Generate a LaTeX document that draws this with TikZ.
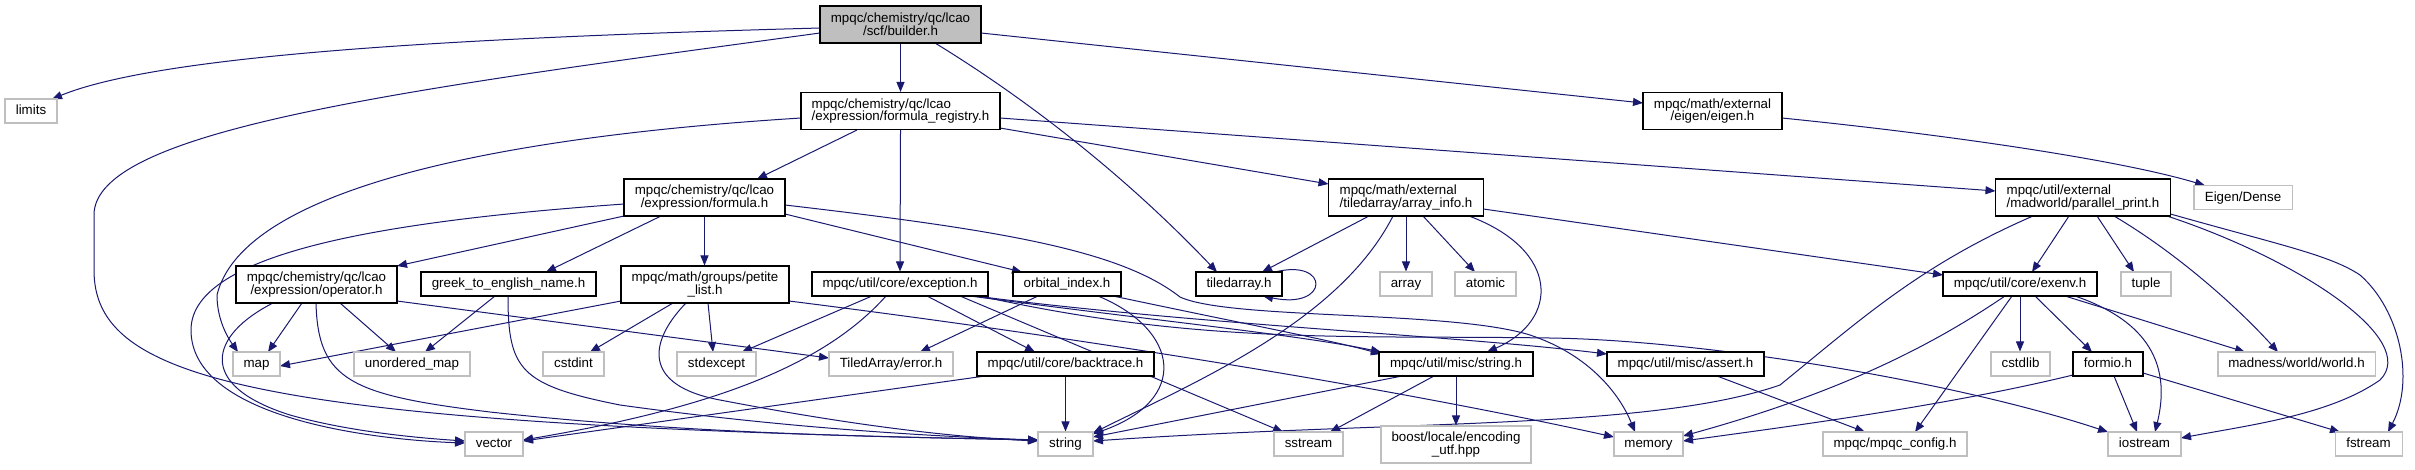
\documentclass[tikz,border=0pt]{standalone}
\usepackage{fontspec}
\setmainfont{Liberation Sans}
\usetikzlibrary{arrows.meta,calc,backgrounds}
\definecolor{edgeblue}{HTML}{191970}
\definecolor{extgray}{HTML}{BFBFBF}
\begin{document}
\begin{tikzpicture}[x=0.75pt,y=-0.75pt,
  box/.style={inner sep=0pt, line width=0.8pt, fill=white, font=\fontsize{10pt}{9.5pt}\selectfont},
  docnode/.style={box, draw=black},
  extnode/.style={box, draw=extgray},
  curnode/.style={box, draw=black, fill=extgray},
  bw/.style={minimum width={#1*0.75pt}},
  hone/.style={minimum height=18pt, text height=7.3pt, text depth=2pt},
  htwo/.style={minimum height=27.75pt},
  dep/.style={draw=edgeblue, line width=0.75pt, -{Triangle[length=7.5pt,width=6pt]}}]
\useasboundingbox (0,0) rectangle (2415,469);
% rank 1
\node[curnode,bw=161,htwo,align=center] (builder) at (900.5,24.5) {mpqc/chemistry/qc/lcao\\/scf/builder.h};
% rank 2
\node[extnode,bw=52,hone] (limits) at (31,111) {limits};
\node[docnode,bw=199,htwo,align=left] (freg) at (900.5,111) {mpqc/chemistry/qc/lcao\\/expression/formula\_registry.h};
\node[docnode,bw=139,htwo,align=center] (eigen) at (1712.5,111) {mpqc/math/external\\/eigen/eigen.h};
% rank 3
\node[docnode,bw=161,htwo,align=center] (formula) at (704.5,197.5) {mpqc/chemistry/qc/lcao\\/expression/formula.h};
\node[docnode,bw=155,htwo,align=left] (arrinfo) at (1406,197.5) {mpqc/math/external\\/tiledarray/array\_info.h};
\node[docnode,bw=175,htwo,align=left] (pprint) at (2083,197.5) {mpqc/util/external\\/madworld/parallel\_print.h};
\node[extnode,bw=98,hone] (edense) at (2243,197.5) {Eigen/Dense};
% rank 4
\node[docnode,bw=161,htwo,align=center] (operator) at (316.5,284.5) {mpqc/chemistry/qc/lcao\\/expression/operator.h};
\node[docnode,bw=175,hone] (greek) at (508.5,284) {greek\_to\_english\_name.h};
\node[docnode,bw=168,htwo,align=center] (petite) at (705,284.5) {mpqc/math/groups/petite\\\_list.h};
\node[docnode,bw=176,hone] (exception) at (900,284) {mpqc/util/core/exception.h};
\node[docnode,bw=108,hone] (orbital) at (1067,284) {orbital\_index.h};
\node[docnode,bw=86,hone] (tarray) at (1239,284) {tiledarray.h};
\node[extnode,bw=52,hone] (array) at (1406,284) {array};
\node[extnode,bw=61,hone] (atomic) at (1485.5,284) {atomic};
\node[docnode,bw=154,hone] (exenv) at (2020,284) {mpqc/util/core/exenv.h};
\node[extnode,bw=50,hone] (tuple) at (2146,284) {tuple};
% rank 5
\node[extnode,bw=47,hone] (map) at (256.5,364) {map};
\node[extnode,bw=116,hone] (umap) at (412,364) {unordered\_map};
\node[extnode,bw=61,hone] (cstdint) at (573.5,364) {cstdint};
\node[extnode,bw=79,hone] (stdexcept) at (716.5,364) {stdexcept};
\node[extnode,bw=124,hone] (taerror) at (891,364) {TiledArray/error.h};
\node[docnode,bw=177,hone] (backtrace) at (1065.5,364) {mpqc/util/core/backtrace.h};
\node[docnode,bw=154,hone] (stringh) at (1456,364) {mpqc/util/misc/string.h};
\node[docnode,bw=157,hone] (assert) at (1685.5,364) {mpqc/util/misc/assert.h};
\node[extnode,bw=59,hone] (cstdlib) at (2020.5,364) {cstdlib};
\node[docnode,bw=70,hone] (formio) at (2108,364) {formio.h};
\node[extnode,bw=157,hone] (world) at (2296.5,364) {madness/world/world.h};
% rank 6
\node[extnode,bw=58,hone] (vector) at (494,444) {vector};
\node[extnode,bw=55,hone] (string) at (1065.5,444) {string};
\node[extnode,bw=69,hone] (sstream) at (1308.5,444) {sstream};
\node[extnode,bw=150,htwo,align=center] (boost) at (1456,444.5) {boost/locale/encoding\\\_utf.hpp};
\node[extnode,bw=69,hone] (memory) at (1648.5,444) {memory};
\node[extnode,bw=144,hone] (config) at (1895,444) {mpqc/mpqc\_config.h};
\node[extnode,bw=73,hone] (iostream) at (2144.5,444) {iostream};
\node[extnode,bw=67,hone] (fstream) at (2368.5,444) {fstream};

\begin{scope}[on background layer]
\fill[white] (0,0) rectangle (2415,469);
% builder.h
\draw[dep] ($(builder)+(-80.5,3.5)$) .. controls (450,38) and (160,55) .. ($(limits)+(21,-12)$);
\draw[dep] ($(builder)+(-80.5,8.5)$) .. controls (400,90) and (94,130) .. (94,215) -- (94,270) .. controls (94,380) and (250,425) .. ($(string)+(-27.5,-4)$);
\draw[dep] (builder.south) -- (freg.north);
\draw[dep] ($(builder)+(34.5,18.5)$) .. controls (1020,95) and (1120,170) .. ($(tarray)+(-22,-12)$);
\draw[dep] ($(builder)+(80.5,8.5)$) -- ($(eigen)+(-69.5,-8)$);
% formula_registry.h
\draw[dep] ($(freg)+(-99.5,7)$) .. controls (450,140) and (240,200) .. (217,295) .. controls (217,320) and (228,338) .. ($(map)+(-18.5,-12)$);
\draw[dep] ($(freg)+(-43.5,19)$) -- ($(formula)+(52.5,-18.5)$);
\draw[dep] (freg.south) -- (exception.north);
\draw[dep] ($(freg)+(99.5,17)$) -- ($(arrinfo)+(-77.5,-13.5)$);
\draw[dep] ($(freg)+(99.5,7)$) -- ($(pprint)+(-87.5,-6.5)$);
% eigen.h
\draw[dep] ($(eigen)+(69.5,7)$) .. controls (1950,135) and (2120,160) .. ($(edense)+(-38,-12)$);
% formula.h
\draw[dep] ($(formula)+(-80.5,6.5)$) .. controls (400,220) and (191,250) .. (191,330) .. controls (191,420) and (380,440) .. ($(vector)+(-29,-1)$);
\draw[dep] ($(formula)+(-80.5,18.5)$) -- ($(operator)+(80.5,-18.5)$);
\draw[dep] ($(formula)+(-43.5,18.5)$) -- ($(greek)+(37.5,-12)$);
\draw[dep] (formula.south) -- (formula.south |- petite.north);
\draw[dep] ($(formula)+(80.5,16.5)$) -- ($(orbital)+(-45,-12)$);
\draw[dep] ($(formula)+(80.5,7.5)$) .. controls (1000,230) and (1120,250) .. (1180,297) .. controls (1230,320) and (1450,310) .. (1530,335) .. controls (1590,355) and (1620,395) .. ($(memory)+(-13.5,-12)$);
% operator.h
\draw[dep] ($(operator)+(-43.5,18.5)$) .. controls (210,335) and (195,385) .. (290,415) .. controls (350,432) and (420,438) .. ($(vector)+(-29,-3)$);
\draw[dep] ($(operator)+(-14.5,18.5)$) -- ($(map)+(11.5,-12)$);
\draw[dep] ($(operator)+(-0.5,18.5)$) .. controls (318,380) and (350,395) .. (490,412) .. controls (700,435) and (900,437) .. ($(string)+(-27.5,-4)$);
\draw[dep] ($(operator)+(23.5,18.5)$) -- ($(umap)+(-16,-12)$);
\draw[dep] ($(operator)+(80.5,16.5)$) -- ($(taerror)+(-62,-6)$);
% greek_to_english_name.h
\draw[dep] ($(greek)+(-13.5,12)$) -- ($(umap)+(13,-12)$);
\draw[dep] ($(greek)+(-0.5,12)$) .. controls (508,370) and (520,385) .. (620,405) .. controls (800,430) and (950,437) .. ($(string)+(-27.5,-4)$);
% petite_list.h
\draw[dep] ($(petite)+(-84,16.5)$) -- ($(map)+(23.5,2)$);
\draw[dep] ($(petite)+(-32,18.5)$) -- ($(cstdint)+(16.5,-12)$);
\draw[dep] ($(petite)+(3,18.5)$) -- ($(stdexcept)+(-3.5,-12)$);
\draw[dep] ($(petite)+(-19,18.5)$) .. controls (650,340) and (640,385) .. (720,400) .. controls (850,425) and (950,437) .. ($(string)+(-27.5,-3)$);
\draw[dep] ($(petite)+(84,16.5)$) .. controls (1100,340) and (1400,390) .. ($(memory)+(-34.5,-7)$);
% exception.h
\draw[dep] ($(exception)+(-28,12)$) -- ($(stdexcept)+(25.5,-12)$);
\draw[dep] ($(exception)+(-14,12)$) .. controls (820,370) and (700,410) .. ($(vector)+(29,-4)$);
\draw[dep] ($(exception)+(27,12)$) -- ($(backtrace)+(-30.5,-12)$);
\draw[dep] ($(exception)+(60,12)$) -- ($(sstream)+(-25.5,-12)$);
\draw[dep] ($(exception)+(70,12)$) .. controls (1150,320) and (1300,335) .. ($(stringh)+(-75,-12)$);
\draw[dep] ($(exception)+(80,12)$) .. controls (1200,345) and (1350,335) .. (1550,338) .. controls (1700,340) and (1950,380) .. ($(iostream)+(-36.5,-12)$);
\draw[dep] ($(exception)+(75,12)$) .. controls (1200,325) and (1450,335) .. ($(assert)+(-78.5,-10)$);
% orbital_index.h
\draw[dep] ($(orbital)+(-29,12)$) -- ($(taerror)+(29,-12)$);
\draw[dep] ($(orbital)+(31,12)$) .. controls (1180,330) and (1190,400) .. ($(string)+(27.5,-10)$);
\draw[dep] ($(orbital)+(46,12)$) .. controls (1250,325) and (1330,340) .. ($(stringh)+(-75,-10)$);
% tiledarray.h
\draw[dep] ($(tarray)+(36,-12)$) .. controls (1330,258) and (1330,310) .. ($(tarray)+(24,12)$);
% array_info.h
\draw[dep] ($(arrinfo)+(-37,18.5)$) -- ($(tarray)+(23,-12)$);
\draw[dep] ($(arrinfo)+(-13,18.5)$) .. controls (1340,320) and (1200,380) .. ($(string)+(27.5,-11)$);
\draw[dep] (arrinfo.south) -- (array.north);
\draw[dep] ($(arrinfo)+(17,18.5)$) -- ($(atomic)+(-10.5,-12)$);
\draw[dep] ($(arrinfo)+(63,18.5)$) .. controls (1560,250) and (1560,320) .. ($(stringh)+(31,-12)$);
\draw[dep] ($(arrinfo)+(77.5,11.5)$) -- ($(exenv)+(-77,-9)$);
% parallel_print.h
\draw[dep] ($(pprint)+(-50,18.5)$) .. controls (1920,265) and (1860,320) .. (1780,385) .. controls (1650,430) and (1400,420) .. ($(string)+(27.5,-3)$);
\draw[dep] ($(pprint)+(-14,18.5)$) -- ($(exenv)+(12,-12)$);
\draw[dep] ($(pprint)+(14,18.5)$) -- ($(tuple)+(-12,-12)$);
\draw[dep] ($(pprint)+(31,18.5)$) .. controls (2180,255) and (2240,310) .. ($(world)+(-18.5,-12)$);
\draw[dep] ($(pprint)+(84,18.5)$) .. controls (2300,260) and (2420,340) .. (2380,380) .. controls (2330,415) and (2250,425) .. ($(iostream)+(36.5,-6)$);
\draw[dep] ($(pprint)+(87.5,16.5)$) .. controls (2280,245) and (2330,255) .. (2360,275) .. controls (2400,310) and (2415,380) .. ($(fstream)+(19.5,-12)$);
% exenv.h
\draw[dep] ($(exenv)+(-15,12)$) .. controls (1940,340) and (1850,390) .. ($(memory)+(34.5,-8)$);
\draw[dep] ($(exenv)+(-8,12)$) -- ($(config)+(20,-12)$);
\draw[dep] (exenv.south) -- (exenv.south |- cstdlib.north);
\draw[dep] ($(exenv)+(15,12)$) -- ($(formio)+(-16,-12)$);
\draw[dep] ($(exenv)+(55,12)$) .. controls (2130,315) and (2175,350) .. ($(iostream)+(10.5,-12)$);
\draw[dep] ($(exenv)+(45,12)$) -- ($(world)+(-51.5,-12)$);
% formio.h
\draw[dep] ($(formio)+(-35,11)$) .. controls (1950,405) and (1800,425) .. ($(memory)+(34.5,-3)$);
\draw[dep] ($(formio)+(6,12)$) -- ($(iostream)+(-7.5,-12)$);
\draw[dep] ($(formio)+(35,9)$) -- ($(fstream)+(-28.5,-12)$);
% string.h
\draw[dep] ($(stringh)+(-54,12)$) -- ($(string)+(27.5,-7)$);
\draw[dep] ($(stringh)+(-22,12)$) -- ($(sstream)+(21.5,-12)$);
\draw[dep] (stringh.south) -- (boost.north);
% assert.h
\draw[dep] ($(assert)+(31.5,12)$) -- ($(config)+(-30,-12)$);
% backtrace.h
\draw[dep] ($(backtrace)+(-80.5,12)$) -- ($(vector)+(29,-3)$);
\draw[dep] (backtrace.south) -- (string.north);
\end{scope}
\end{tikzpicture}
\end{document}
